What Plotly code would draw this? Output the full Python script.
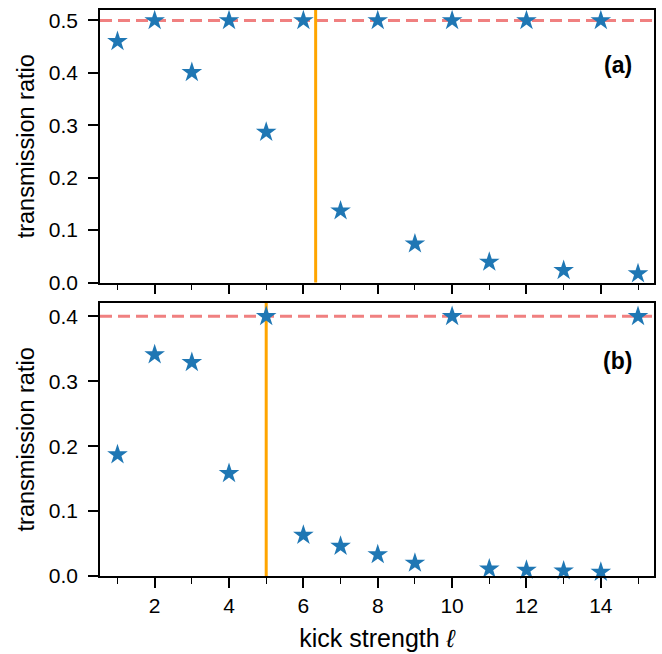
import plotly.graph_objects as go
from plotly.subplots import make_subplots

# Data
kick = [1, 2, 3, 4, 5, 6, 7, 8, 9, 10, 11, 12, 13, 14, 15]
ratio_a = [0.460, 0.500, 0.401, 0.500, 0.287, 0.500, 0.137, 0.500, 0.074, 0.500,
           0.039, 0.500, 0.023, 0.500, 0.017]
ratio_b = [0.187, 0.341, 0.329, 0.158, 0.400, 0.063, 0.046, 0.033, 0.020, 0.400,
           0.011, 0.009, 0.008, 0.006, 0.400]
max_ratio = [0.5, 0.4]          # dashed reference levels
crit_kick = [6.33, 5.0]         # vertical orange markers
panel_labels = ["<b>(a)</b>", "<b>(b)</b>"]
y_ranges = [[0, 0.52], [0, 0.421]]
x_range = [0.53, 15.43]

FONT = "Liberation Sans, Arial, Helvetica, sans-serif"
BLUE = "#1f77b4"

fig = make_subplots(rows=2, cols=1, shared_xaxes=True, vertical_spacing=0.035)

for i, ys in enumerate([ratio_a, ratio_b]):
    fig.add_trace(go.Scatter(
        x=kick, y=ys, mode="markers",
        marker=dict(symbol="star", size=15.5, color=BLUE, line=dict(width=0)),
        showlegend=False, cliponaxis=False), row=i + 1, col=1)

for i in range(2):
    xr = "x" if i == 0 else "x2"
    yr = "y" if i == 0 else "y2"
    fig.add_shape(type="line", xref=xr + " domain", yref=yr,
                  x0=0, x1=1, y0=max_ratio[i], y1=max_ratio[i],
                  line=dict(color="#f08080", width=3, dash="12px,6px"), layer="below")
    fig.add_shape(type="line", xref=xr, yref=yr + " domain",
                  x0=crit_kick[i], x1=crit_kick[i], y0=0, y1=1,
                  line=dict(color="#ffa500", width=3), layer="below")
    fig.add_annotation(text=panel_labels[i], xref=xr + " domain", yref=yr + " domain",
                       x=0.935, y=0.80 if i == 0 else 0.786, showarrow=False,
                       xanchor="center", yanchor="middle",
                       font=dict(family=FONT, size=23, color="black"))

axis_common = dict(showline=True, linecolor="black", linewidth=1.6, mirror=True,
                   ticks="outside", ticklen=10, tickwidth=1.5, tickcolor="black",
                   showgrid=False, zeroline=False,
                   tickfont=dict(family=FONT, size=21, color="black"))

for i in range(2):
    fig.update_xaxes(range=x_range, tick0=0, dtick=2,
                     minor=dict(ticks="outside", ticklen=6, tickwidth=1.3, tickcolor="black",
                                dtick=1, tick0=1, showgrid=False),
                     **axis_common, row=i + 1, col=1)
    fig.update_yaxes(range=y_ranges[i], tick0=0, dtick=0.1, tickformat=".1f",
                     ticklabelstandoff=6,
                     title=dict(text="transmission ratio", standoff=8,
                                font=dict(family=FONT, size=23.5, color="black")),
                     **axis_common, row=i + 1, col=1)

fig.update_xaxes(showticklabels=False, row=1, col=1)
fig.update_xaxes(title=dict(text="kick strength <i>ℓ</i>", standoff=13,
                            font=dict(family=FONT, size=25, color="black")), row=2, col=1)

fig.update_layout(
    width=662, height=654,
    margin=dict(l=100, r=6, t=10, b=75),
    plot_bgcolor="white", paper_bgcolor="white",
    xaxis=dict(domain=[0, 1]),
    yaxis=dict(domain=[0.5185, 1.0]),
    yaxis2=dict(domain=[0.0, 0.4828]),
)

fig.write_html("out.html", config={"displayModeBar": False},
               post_script="document.body.style.margin='0';")
